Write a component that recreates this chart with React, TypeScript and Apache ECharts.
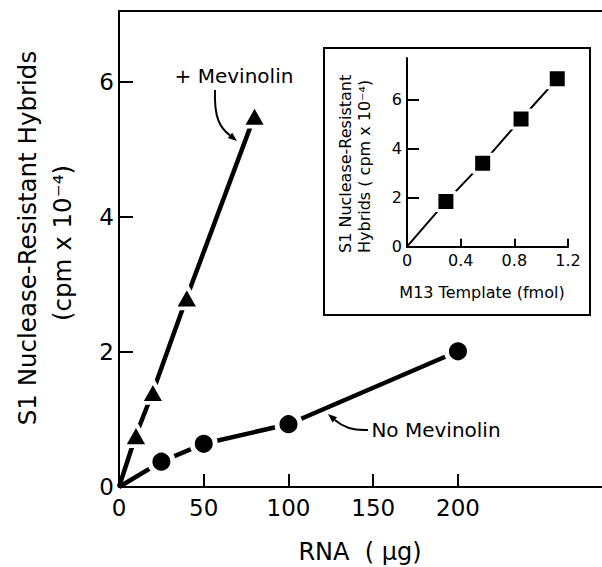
import React, { useEffect, useRef } from "react";
import * as echarts from "echarts";

// Main plot: + Mevinolin (triangles)
const rnaMev = [10, 20, 40, 80];
const hybMev = [0.77, 1.41, 2.81, 5.5];
// Main plot: No Mevinolin (circles)
const rnaNo = [25, 50, 100, 200];
const hybNo = [0.375, 0.64, 0.93, 2.01];
// Inset: M13 template standard curve (squares)
const m13 = [0.29, 0.564, 0.85, 1.12];
const hybM13 = [1.84, 3.41, 5.21, 6.85];

const mainXTicks = [0, 50, 100, 150, 200];
const mainYTicks = [0, 2, 4, 6];
const insetXTicks = [0, 0.4, 0.8, 1.2];
const insetYTicks = [0, 2, 4, 6];

const FONT = "'DejaVu Sans', 'Liberation Sans', Arial, sans-serif";
const BLACK = "#000";

function withOrigin(xs: number[], ys: number[]) {
  return [
    { value: [0, 0], symbol: "none" },
    ...xs.map((x, i) => ({ value: [x, ys[i]] })),
  ];
}

export default function App() {
  const ref = useRef<HTMLDivElement>(null);

  useEffect(() => {
    document.body.style.margin = "0";
    const chart = echarts.init(ref.current as HTMLDivElement, null, {
      renderer: "svg",
    });

    const axisLineStyle = { color: BLACK, width: 2 };

    const option: any = {
      animation: false,
      backgroundColor: "#fff",
      textStyle: { fontFamily: FONT, color: BLACK },
      grid: [
        { left: 119, top: 11, right: 0, bottom: 80 },
        { left: 407, top: 58, width: 161, height: 188.7 },
      ],
      xAxis: [
        {
          type: "value",
          gridIndex: 0,
          min: 0,
          max: 285,
          position: "bottom",
          axisLine: { show: true, onZero: false, lineStyle: axisLineStyle },
          axisTick: {
            show: true,
            inside: true,
            length: 13,
            lineStyle: { color: BLACK, width: 2 },
            customValues: mainXTicks,
          },
          axisLabel: {
            show: true,
            margin: 9,
            fontSize: 23,
            fontFamily: FONT,
            color: BLACK,
            customValues: mainXTicks,
          },
          splitLine: { show: false },
        },
        {
          type: "value",
          gridIndex: 0,
          min: 0,
          max: 285,
          position: "top",
          axisLine: { show: true, onZero: false, lineStyle: axisLineStyle },
          axisTick: { show: false },
          axisLabel: { show: false },
          splitLine: { show: false },
        },
        {
          type: "value",
          gridIndex: 1,
          min: 0,
          max: 1.2,
          position: "bottom",
          axisLine: { show: true, onZero: false, lineStyle: axisLineStyle },
          axisTick: {
            show: true,
            inside: true,
            length: 8,
            lineStyle: { color: BLACK, width: 2 },
            customValues: insetXTicks,
          },
          axisLabel: {
            show: true,
            margin: 6,
            fontSize: 16,
            fontFamily: FONT,
            color: BLACK,
            customValues: insetXTicks,
          },
          splitLine: { show: false },
        },
      ],
      yAxis: [
        {
          type: "value",
          gridIndex: 0,
          min: 0,
          max: 7.05,
          axisLine: { show: true, onZero: false, lineStyle: axisLineStyle },
          axisTick: {
            show: true,
            inside: true,
            length: 14,
            lineStyle: { color: BLACK, width: 2 },
            customValues: mainYTicks,
          },
          axisLabel: {
            show: true,
            margin: 5,
            fontSize: 23,
            fontFamily: FONT,
            color: BLACK,
            customValues: mainYTicks,
          },
          splitLine: { show: false },
        },
        {
          type: "value",
          gridIndex: 1,
          min: 0,
          max: 7.7,
          axisLine: { show: true, onZero: false, lineStyle: axisLineStyle },
          axisTick: {
            show: true,
            inside: true,
            length: 12,
            lineStyle: { color: BLACK, width: 2 },
            customValues: insetYTicks,
          },
          axisLabel: {
            show: true,
            margin: 5,
            fontSize: 16,
            fontFamily: FONT,
            color: BLACK,
            customValues: insetYTicks,
          },
          splitLine: { show: false },
        },
      ],
      series: [
        {
          name: "+ Mevinolin",
          type: "line",
          xAxisIndex: 0,
          yAxisIndex: 0,
          data: withOrigin(rnaMev, hybMev),
          symbol: "triangle",
          symbolSize: [25, 22],
          lineStyle: { color: BLACK, width: 4.5 },
          itemStyle: {
            color: BLACK,
            borderColor: "#fff",
            borderWidth: 4,
            borderJoin: "round",
          },
          silent: true,
          emphasis: { disabled: true },
        },
        {
          name: "No Mevinolin",
          type: "line",
          xAxisIndex: 0,
          yAxisIndex: 0,
          data: withOrigin(rnaNo, hybNo),
          symbol: "circle",
          symbolSize: 23,
          lineStyle: { color: BLACK, width: 4.5 },
          itemStyle: { color: BLACK, borderColor: "#fff", borderWidth: 5 },
          silent: true,
          emphasis: { disabled: true },
        },
        {
          name: "M13 Template",
          type: "line",
          xAxisIndex: 2,
          yAxisIndex: 1,
          data: withOrigin(m13, hybM13),
          symbol: "rect",
          symbolSize: 18,
          lineStyle: { color: BLACK, width: 2 },
          itemStyle: { color: BLACK, borderColor: "#fff", borderWidth: 3 },
          silent: true,
          emphasis: { disabled: true },
        },
      ],
      graphic: [
        // inset frame
        {
          type: "rect",
          shape: { x: 324, y: 48, width: 266, height: 267 },
          style: { fill: "none", stroke: BLACK, lineWidth: 2 },
          silent: true,
        },
        // main y title
        {
          type: "text",
          x: 27,
          y: 238,
          rotation: Math.PI / 2,
          style: {
            text: "S1 Nuclease-Resistant Hybrids",
            fontSize: 24.5,
            fontFamily: FONT,
            fill: BLACK,
            align: "center",
            verticalAlign: "middle",
          },
        },
        {
          type: "text",
          x: 62,
          y: 243,
          rotation: Math.PI / 2,
          style: {
            text: "(cpm x 10⁻⁴)",
            fontSize: 24.5,
            fontFamily: FONT,
            fill: BLACK,
            align: "center",
            verticalAlign: "middle",
          },
        },
        // main x title
        {
          type: "text",
          x: 360,
          y: 552,
          style: {
            text: "RNA  ( μg)",
            fontSize: 24,
            fontFamily: FONT,
            fill: BLACK,
            align: "center",
            verticalAlign: "middle",
          },
        },
        // inset titles
        {
          type: "text",
          x: 345,
          y: 253,
          rotation: Math.PI / 2,
          style: {
            text: "S1 Nuclease-Resistant",
            fontSize: 16,
            fontFamily: FONT,
            fill: BLACK,
            align: "left",
            verticalAlign: "middle",
          },
        },
        {
          type: "text",
          x: 364,
          y: 253,
          rotation: Math.PI / 2,
          style: {
            text: "Hybrids ( cpm x 10⁻⁴)",
            fontSize: 16,
            fontFamily: FONT,
            fill: BLACK,
            align: "left",
            verticalAlign: "middle",
          },
        },
        {
          type: "text",
          x: 482,
          y: 292,
          style: {
            text: "M13 Template (fmol)",
            fontSize: 16,
            fontFamily: FONT,
            fill: BLACK,
            align: "center",
            verticalAlign: "middle",
          },
        },
        // annotations
        {
          type: "text",
          x: 234,
          y: 76,
          style: {
            text: "+ Mevinolin",
            fontSize: 20,
            fontFamily: FONT,
            fill: BLACK,
            align: "center",
            verticalAlign: "middle",
          },
        },
        {
          type: "bezierCurve",
          shape: {
            x1: 215,
            y1: 90,
            cpx1: 214,
            cpy1: 118,
            cpx2: 220,
            cpy2: 128,
            x2: 230,
            y2: 135.4,
          },
          style: { stroke: BLACK, lineWidth: 2, fill: "none" },
        },
        {
          type: "polygon",
          shape: {
            points: [
              [237, 141],
              [227.8, 138.1],
              [232.2, 132.7],
            ],
          },
          style: { fill: BLACK },
        },
        {
          type: "text",
          x: 436,
          y: 430,
          style: {
            text: "No Mevinolin",
            fontSize: 20,
            fontFamily: FONT,
            fill: BLACK,
            align: "center",
            verticalAlign: "middle",
          },
        },
        {
          type: "bezierCurve",
          shape: {
            x1: 368,
            y1: 430,
            cpx1: 352,
            cpy1: 431,
            cpx2: 342,
            cpy2: 426,
            x2: 334.8,
            y2: 419.9,
          },
          style: { stroke: BLACK, lineWidth: 2, fill: "none" },
        },
        {
          type: "polygon",
          shape: {
            points: [
              [328, 414],
              [337.1, 417.2],
              [332.5, 422.6],
            ],
          },
          style: { fill: BLACK },
        },
      ],
    };

    chart.setOption(option);
    return () => chart.dispose();
  }, []);

  return <div ref={ref} style={{ width: 602, height: 567 }} />;
}
